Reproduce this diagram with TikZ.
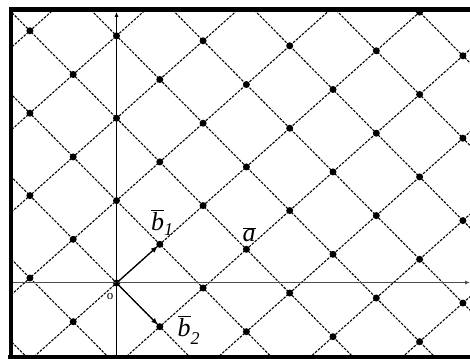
\documentclass[tikz,border=0pt]{standalone}
\usepackage{fontspec}
\setmainfont{Liberation Serif}
\usetikzlibrary{arrows.meta}
\begin{document}
\begin{tikzpicture}[x=1pt,y=-1pt,
  latt/.style={line width=1.1pt, dash pattern=on 2.6pt off 1.3pt},
  vec/.style={line width=1.2pt, -{Latex[length=7pt,width=5.5pt]}, shorten >=2.5pt},
  axis/.style={line width=0.8pt},
  lbl/.style={font=\fontsize{26}{26}\selectfont\itshape, inner sep=0pt, anchor=base west},
  frameline/.style={line width=4.5pt}]
\useasboundingbox (0,0) rectangle (470,358);
\coordinate (O) at (116.5,283);
\coordinate (B1) at (159.8,244.3);
\coordinate (B2) at (159.8,326.7);
\coordinate (A) at (246.4,249.3);
\begin{scope}
  \clip (11,9.5) rectangle (470,357.5);
  \foreach \j in {-10,...,10} {
    \draw[latt] ({116.5+43.3*\j-43.3*15},{283+43.7*\j+38.7*15}) -- ({116.5+43.3*\j+43.3*15},{283+43.7*\j-38.7*15});
    \draw[latt] ({116.5+43.3*\j-43.3*15},{283-38.7*\j-43.7*15}) -- ({116.5+43.3*\j+43.3*15},{283-38.7*\j+43.7*15});
  }
  \foreach \i in {-10,...,10} {
    \foreach \j in {-10,...,10} {
      \fill ({116.5+43.3*(\i+\j)},{283-38.7*\i+43.7*\j}) circle (3.5);
    }
  }
  \coordinate (yb) at (116.5,358);
  \coordinate (yt) at (116.5,12);
  \coordinate (xl) at (11,282.5);
  \coordinate (xr) at (470,282.5);
  \draw[axis, -{Latex[length=5pt,width=4pt]}] (yb) -- (yt);
  \draw[axis, black!70, -{Latex[length=5pt,width=4pt]}] (xl) -- (xr);
  \draw[vec] (O) -- (B1);
  \draw[vec] (O) -- (B2);
\end{scope}
\draw[frameline] (11,362) -- (11,9.5) -- (475,9.5);
\draw[frameline] (8,357.5) -- (475,357.5);
\node[lbl] (lb1) at (151,230) {$\overline{\hbox{\itshape b}}$\raisebox{-5pt}{\fontsize{18}{18}\selectfont\itshape 1}};
\node[lbl] (la) at (242.5,241.5) {$\overline{\hbox{\itshape a}}$};
\node[lbl] (lb2) at (177.5,336) {$\overline{\hbox{\itshape b}}$\raisebox{-8pt}{\fontsize{18}{18}\selectfont\itshape 2}};
\node[font=\fontsize{13}{13}\selectfont, inner sep=0pt] (lo) at (110,296.5) {o};
\end{tikzpicture}
\end{document}
